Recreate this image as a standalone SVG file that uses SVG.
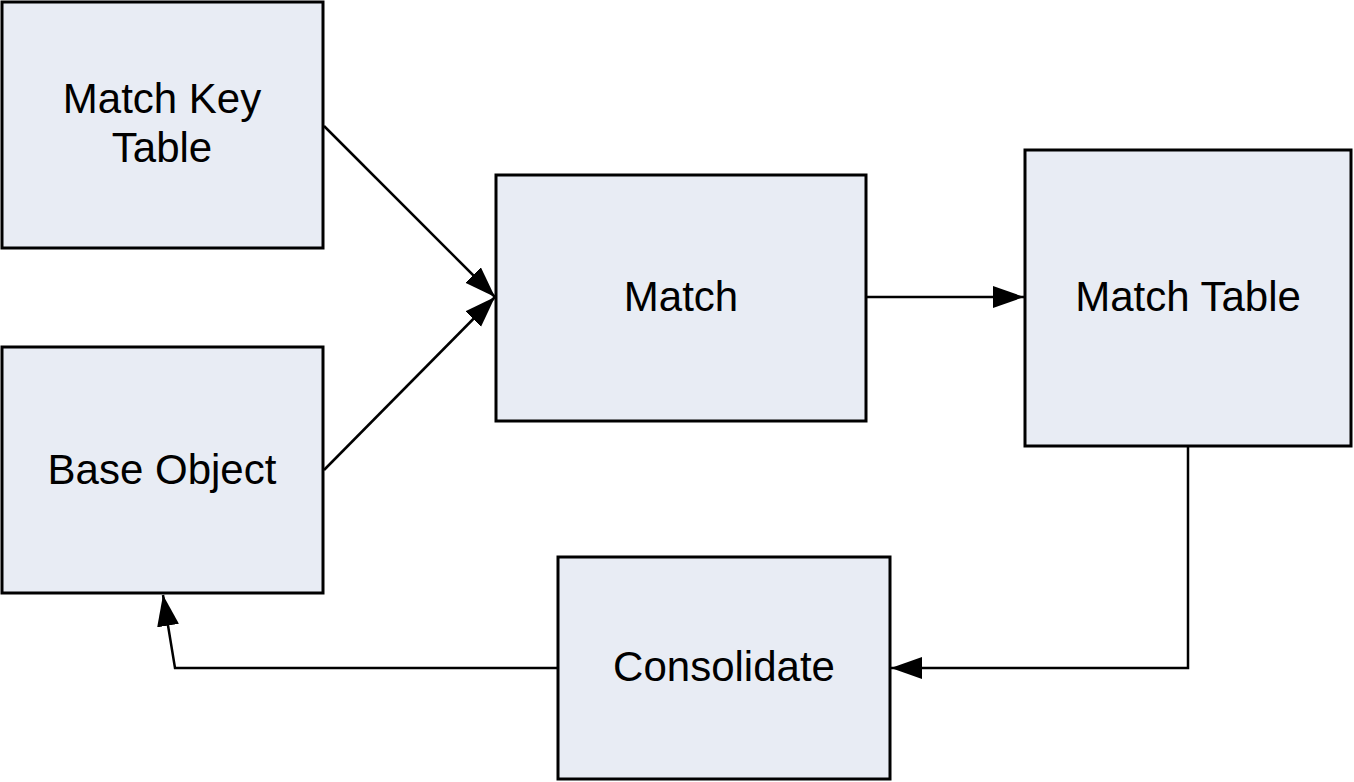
<svg xmlns="http://www.w3.org/2000/svg" width="1354" height="782" viewBox="0 0 1354 782">
<style>
.box{fill:#e8ecf4;stroke:#000;stroke-width:3}
.lbl{font-family:"Liberation Sans",Arial,sans-serif;font-size:42px;fill:#000;text-anchor:middle}
.con{fill:none;stroke:#000;stroke-width:2.5}
</style>
<defs>
<marker id="arr" markerUnits="userSpaceOnUse" markerWidth="34" markerHeight="24" refX="31" refY="11" orient="auto" viewBox="0 0 34 24">
<path d="M0,0 L31,11 L0,22 Z" fill="#000"/>
</marker>
</defs>
<rect width="1354" height="782" fill="#fff"/>
<g id="node-matchkey"><rect class="box" x="2" y="2" width="321" height="246"/><text class="lbl" x="162" y="113">Match Key</text><text class="lbl" x="162" y="162">Table</text></g>
<g id="node-base"><rect class="box" x="2" y="347" width="321" height="246"/><text class="lbl" x="162" y="484">Base Object</text></g>
<g id="node-match"><rect class="box" x="496" y="175" width="370" height="246"/><text class="lbl" x="681" y="311">Match</text></g>
<g id="node-matchtable"><rect class="box" x="1025" y="150" width="326" height="296"/><text class="lbl" x="1188" y="311">Match Table</text></g>
<g id="node-consolidate"><rect class="box" x="558" y="557" width="332" height="222"/><text class="lbl" x="724" y="681">Consolidate</text></g>
<g id="connectors">
<path class="con" d="M324,126 L495,297" marker-end="url(#arr)"/>
<path class="con" d="M324,470 L495,297" marker-end="url(#arr)"/>
<path class="con" d="M867,297 L1024,297" marker-end="url(#arr)"/>
<path class="con" d="M1188,447 L1188,668 L891,668" marker-end="url(#arr)"/>
<path class="con" d="M557,668 L175,668 L163,595" marker-end="url(#arr)"/>
</g>
</svg>
